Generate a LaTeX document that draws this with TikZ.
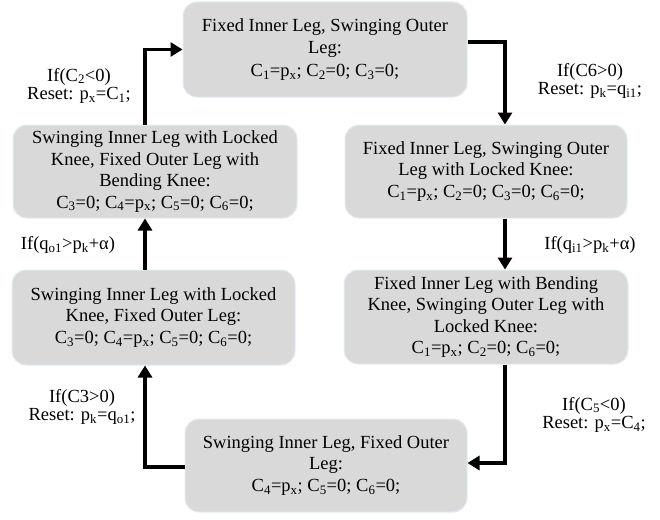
\documentclass[tikz,border=0pt]{standalone}
\usepackage{fontspec}
\setmainfont{Liberation Serif}
\usetikzlibrary{arrows.meta,calc}
\definecolor{boxgray}{RGB}{217,217,217}
\definecolor{halo}{RGB}{226,236,246}
\newcommand\lsub[1]{\textsubscript{#1}}
\begin{document}
\begin{tikzpicture}[x=1pt,y=-1pt,
  state/.style={rectangle, rounded corners=14pt, fill=boxgray, draw=halo, line width=1pt,
    align=center, inner sep=0pt, font=\fontsize{18.5}{21.5}\selectfont},
  cond/.style={align=center, inner sep=0pt, font=\fontsize{18.5}{18.5}\selectfont},
  flow/.style={line width=3.5pt, -{Triangle[length=12pt,width=14pt]}}]
\useasboundingbox (0,0) rectangle (660,519);

% operating modes
\node[state, minimum width=284pt, minimum height=95pt, font=\fontsize{18.5}{22.5}\selectfont] (b1) at (325,49.5)
  {Fixed Inner Leg, Swinging Outer\\ Leg:\\ C\lsub{1}=p\lsub{x}; C\lsub{2}=0; C\lsub{3}=0;};
\node[state, minimum width=282pt, minimum height=93pt] (b2) at (486,171.5)
  {Fixed Inner Leg, Swinging Outer\\ Leg with Locked Knee:\\ C\lsub{1}=p\lsub{x}; C\lsub{2}=0; C\lsub{3}=0; C\lsub{6}=0;};
\node[state, minimum width=284pt, minimum height=94pt] (b3) at (486,317)
  {Fixed Inner Leg with Bending\\ Knee, Swinging Outer Leg with\\ Locked Knee:\\ C\lsub{1}=p\lsub{x}; C\lsub{2}=0; C\lsub{6}=0;};
\node[state, minimum width=282pt, minimum height=93pt] (b4) at (326,465.5)
  {Swinging Inner Leg, Fixed Outer\\ Leg:\\ C\lsub{4}=p\lsub{x}; C\lsub{5}=0; C\lsub{6}=0;};
\node[state, minimum width=283pt, minimum height=95pt] (b5) at (153.5,317.5)
  {Swinging Inner Leg with Locked\\ Knee, Fixed Outer Leg:\\ C\lsub{3}=0; C\lsub{4}=p\lsub{x}; C\lsub{5}=0; C\lsub{6}=0;};
\node[state, minimum width=284pt, minimum height=93pt] (b6) at (155,171.5)
  {Swinging Inner Leg with Locked\\ Knee, Fixed Outer Leg with\\ Bending Knee:\\ C\lsub{3}=0; C\lsub{4}=p\lsub{x}; C\lsub{5}=0; C\lsub{6}=0;};

% guard / reset labels
\node[cond] (l1) at (79,86) {If(C\lsub{2}<0)\\ Reset: p\lsub{x}=C\lsub{1};};
\node[cond] (l2) at (590,81) {If(C6>0)\\ Reset: p\lsub{k}=q\lsub{i1};};
\node[cond] (l3) at (590,245) {If(q\lsub{i1}>p\lsub{k}+α)};
\node[cond] (l4) at (594,415) {If(C\lsub{5}<0)\\ Reset: p\lsub{x}=C\lsub{4};};
\node[cond] (l5) at (82,407) {If(C3>0)\\ Reset: p\lsub{k}=q\lsub{o1};};
\node[cond] (l6) at (68,245) {If(q\lsub{o1}>p\lsub{k}+α)};

% connector columns
\coordinate (rx) at (505,0);
\coordinate (lx) at (145,0);
\coordinate (t1) at (0,42);
\coordinate (t4) at (0,463);
\coordinate (t5) at (0,467);

% transitions
\draw[flow] (b1.east |- t1) -| (b2.north -| rx);
\draw[flow] (b2.south -| rx) -- (b3.north -| rx);
\draw[flow] (b3.south -| rx) |- (b4.east |- t4);
\draw[flow] (b4.west |- t5) -| (b5.south -| lx);
\draw[flow] (b5.north -| lx) -- (b6.south -| lx);
\draw[flow] (b6.north -| lx) |- (b1.west);
\end{tikzpicture}
\end{document}
